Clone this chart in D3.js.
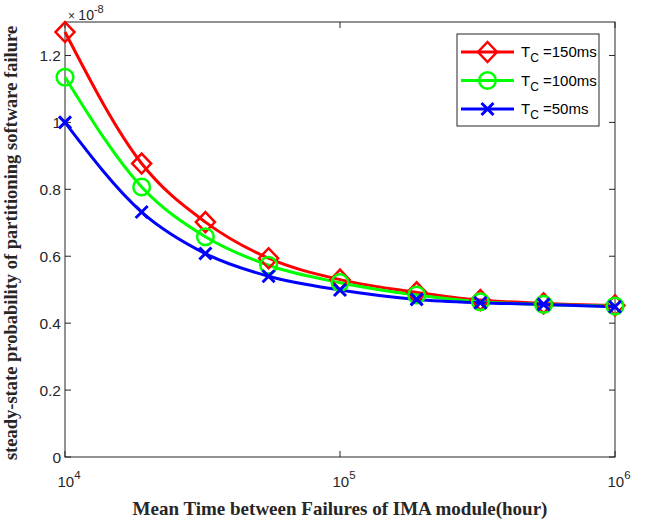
<!DOCTYPE html>
<html>
<head>
<meta charset="utf-8">
<script src="https://cdn.jsdelivr.net/npm/d3@7"></script>
<style>
  body { margin: 0; background: #fff; }
  svg { display: block; }
</style>
</head>
<body>
<svg width="647" height="523"></svg>
<script>
// MTBF of the IMA module (hours)
var mtbf = [1e4, 1.9e4, 3.24e4, 5.5e4, 1e5, 1.9e5, 3.24e5, 5.5e5, 1e6];
// steady-state probability, in units of 1e-8
var tc150 = [1.27, 0.877, 0.702, 0.594, 0.53, 0.492, 0.469, 0.459, 0.453];
var tc100 = [1.135, 0.807, 0.658, 0.573, 0.521, 0.484, 0.464, 0.456, 0.451];
var tc50  = [1.0, 0.732, 0.608, 0.54, 0.499, 0.471, 0.461, 0.456, 0.449];
var yTicks = [0, 0.2, 0.4, 0.6, 0.8, 1, 1.2];
var xTicks = [1e4, 1e5, 1e6];

var series = [
    {name: "150ms", values: tc150, color: "#ff0000", marker: "diamond"},
    {name: "100ms", values: tc100, color: "#00ff00", marker: "circle"},
    {name: "50ms",  values: tc50,  color: "#0000ff", marker: "cross"}
];

var svg = d3.select("svg");
var margin = {left: 65, right: 32, top: 22, bottom: 66};
var width = 647 - margin.left - margin.right,
    height = 523 - margin.top - margin.bottom;

var x = d3.scaleLog().domain([1e4, 1e6]).range([0, width]);
var y = d3.scaleLinear().domain([0, 1.3]).range([height, 0]);

var g = svg.append("g")
    .attr("transform", "translate(" + margin.left + "," + margin.top + ")");

var tickFont = "'Liberation Sans', Arial, sans-serif";
var titleFont = "'Liberation Serif', 'Times New Roman', serif";

// frame
g.append("rect")
    .attr("width", width).attr("height", height)
    .attr("fill", "none").attr("stroke", "#262626").attr("stroke-width", 1);

// y ticks (inward, left and right)
yTicks.forEach(function(t) {
    g.append("line").attr("x1", 0).attr("x2", 6)
        .attr("y1", y(t)).attr("y2", y(t)).attr("stroke", "#262626");
    g.append("line").attr("x1", width).attr("x2", width - 6)
        .attr("y1", y(t)).attr("y2", y(t)).attr("stroke", "#262626");
    g.append("text")
        .attr("x", -4).attr("y", y(t)).attr("dy", "0.36em")
        .attr("text-anchor", "end")
        .style("font-family", tickFont).style("font-size", "15.5px")
        .attr("fill", "#262626")
        .text(d3.format("~g")(t));
});

// x ticks (inward, bottom and top)
xTicks.forEach(function(t) {
    g.append("line").attr("x1", x(t)).attr("x2", x(t))
        .attr("y1", height).attr("y2", height - 6).attr("stroke", "#262626");
    g.append("line").attr("x1", x(t)).attr("x2", x(t))
        .attr("y1", 0).attr("y2", 6).attr("stroke", "#262626");
    var lab = g.append("text")
        .attr("x", x(t) + 4).attr("y", height + 30)
        .attr("text-anchor", "middle")
        .style("font-family", tickFont).style("font-size", "15px")
        .attr("fill", "#262626");
    lab.append("tspan").text("10");
    lab.append("tspan").attr("dy", -8).style("font-size", "11.5px")
        .text(Math.round(Math.log10(t)));
});

// exponent label
var expo = g.append("text")
    .attr("x", 3).attr("y", -2)
    .style("font-family", tickFont).style("font-size", "14px")
    .attr("fill", "#262626");
expo.append("tspan").style("font-size", "12px").text("\u00d7 ");
expo.append("tspan").text("10");
expo.append("tspan").attr("dy", -7).style("font-size", "11px").text("-8");

// axis titles
svg.append("text")
    .attr("x", margin.left + width / 2).attr("y", 515)
    .attr("text-anchor", "middle")
    .style("font-family", titleFont)
    .style("font-size", "19px").style("font-weight", "bold")
    .attr("fill", "#262626")
    .text("Mean Time between Failures of IMA module(hour)");

svg.append("text")
    .attr("transform", "translate(17,243) rotate(-90)")
    .attr("text-anchor", "middle")
    .style("font-family", titleFont)
    .style("font-size", "18.5px").style("font-weight", "bold")
    .attr("fill", "#262626")
    .text("steady-state probability of partitioning software failure");

var line = d3.line()
    .x(function(d, i) { return x(mtbf[i]); })
    .y(function(d) { return y(d); })
    .curve(d3.curveMonotoneX);

function drawMarker(sel, type, color) {
    if (type === "diamond") {
        sel.append("path")
            .attr("d", "M0,-10L9.5,0L0,10L-9.5,0Z")
            .attr("fill", "none").attr("stroke", color).attr("stroke-width", 2.5);
    } else if (type === "circle") {
        sel.append("circle").attr("r", 8.3)
            .attr("fill", "none").attr("stroke", color).attr("stroke-width", 2.5);
    } else {
        sel.append("path")
            .attr("d", "M-6,-6L6,6M-6,6L6,-6")
            .attr("fill", "none").attr("stroke", color).attr("stroke-width", 3);
    }
}

series.forEach(function(s) {
    g.append("path")
        .datum(s.values)
        .attr("d", line)
        .attr("fill", "none")
        .attr("stroke", s.color)
        .attr("stroke-width", 3);
});

series.forEach(function(s) {
    s.values.forEach(function(v, i) {
        var m = g.append("g")
            .attr("transform", "translate(" + x(mtbf[i]) + "," + y(v) + ")");
        drawMarker(m, s.marker, s.color);
    });
});

// legend
var legend = svg.append("g").attr("transform", "translate(457,34)");
legend.append("rect")
    .attr("width", 142).attr("height", 92)
    .attr("fill", "#fff").attr("stroke", "#262626").attr("stroke-width", 1);

series.forEach(function(s, i) {
    var row = legend.append("g").attr("transform", "translate(0," + (18 + i * 28.5) + ")");
    row.append("line").attr("x1", 4).attr("x2", 57)
        .attr("stroke", s.color).attr("stroke-width", 3);
    var m = row.append("g").attr("transform", "translate(30.5,0)");
    drawMarker(m, s.marker, s.color);
    var t = row.append("text")
        .attr("x", 64).attr("y", 5)
        .style("font-family", tickFont).style("font-size", "15px")
        .attr("fill", "#000");
    t.append("tspan").text("T");
    t.append("tspan").attr("dy", 5).style("font-size", "12px").text("C");
    t.append("tspan").attr("dy", -5).text(" =" + s.name);
});
</script>
</body>
</html>
